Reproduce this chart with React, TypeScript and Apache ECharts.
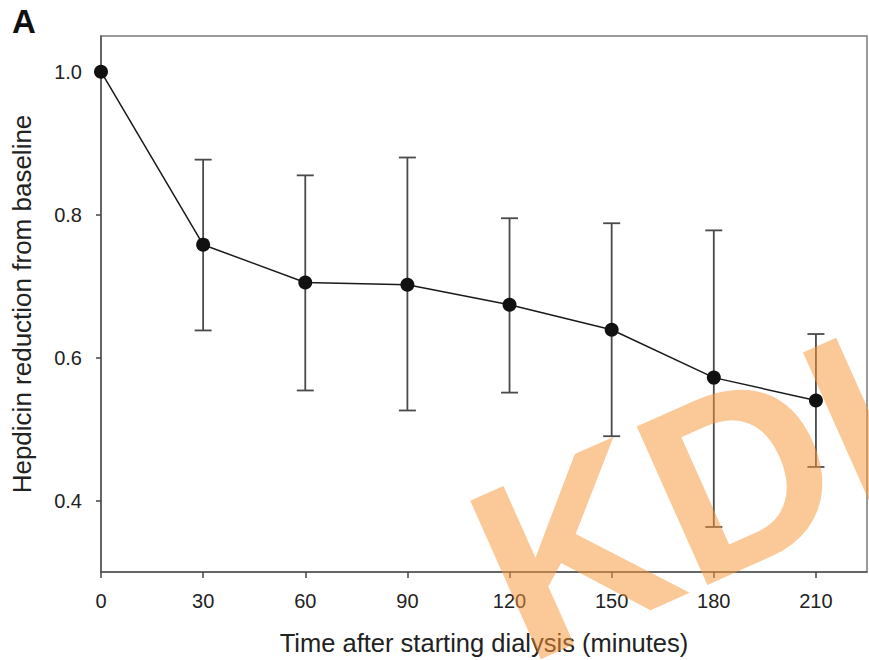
import React, { useEffect, useRef } from "react";
import * as echarts from "echarts";

const timePoints = [0, 30, 60, 90, 120, 150, 180, 210];
const meanValues = [1.0, 0.758, 0.705, 0.702, 0.674, 0.639, 0.572, 0.54];
const upperValues = [null, 0.877, 0.855, 0.88, 0.795, 0.788, 0.778, 0.633];
const lowerValues = [null, 0.638, 0.554, 0.526, 0.551, 0.49, 0.363, 0.447];
const xTickValues = [0, 30, 60, 90, 120, 150, 180, 210];
const yTickValues = [0.4, 0.6, 0.8, 1.0];

export default function App() {
  const ref = useRef<HTMLDivElement>(null);
  useEffect(() => {
    if (!ref.current) return;
    const chart = echarts.init(ref.current, null, { renderer: "svg" });
    const font = '"Liberation Sans", Arial, Helvetica, sans-serif';
    const lineData = timePoints.map((t, i) => [t, meanValues[i]]);
    const errData = timePoints
      .map((t, i) => [t, lowerValues[i], upperValues[i]])
      .filter((d) => d[1] != null);
    chart.setOption({
      animation: false,
      backgroundColor: "#ffffff",
      grid: {
        left: 101,
        right: 2,
        top: 36,
        bottom: 88,
        show: true,
        borderColor: "#7a7a7a",
        borderWidth: 1.5,
        containLabel: false,
        outerBoundsMode: "none",
      },
      xAxis: {
        type: "value",
        min: 0,
        max: 225,
        name: "Time after starting dialysis (minutes)",
        nameLocation: "middle",
        nameGap: 58,
        nameTextStyle: { fontFamily: font, fontSize: 25.5, color: "#222" },
        splitLine: { show: false },
        axisLine: { show: true, lineStyle: { color: "#555", width: 1.5 } },
        axisTick: {
          show: true,
          length: 6,
          inside: false,
          customValues: xTickValues,
          lineStyle: { color: "#444", width: 1.5 },
        },
        axisLabel: {
          customValues: xTickValues,
          fontFamily: font,
          fontSize: 20,
          color: "#222",
          margin: 19,
        },
      },
      yAxis: {
        type: "value",
        min: 0.3,
        max: 1.05,
        name: "Hepdicin reduction from baseline",
        nameLocation: "middle",
        nameGap: 66,
        nameRotate: 90,
        nameTextStyle: { fontFamily: font, fontSize: 26, color: "#222" },
        splitLine: { show: false },
        axisLine: { show: true, lineStyle: { color: "#555", width: 1.5 } },
        axisTick: {
          show: true,
          length: 5,
          inside: false,
          customValues: yTickValues,
          lineStyle: { color: "#444", width: 1.5 },
        },
        axisLabel: {
          customValues: yTickValues,
          formatter: (v: number) => v.toFixed(1),
          fontFamily: font,
          fontSize: 20,
          color: "#222",
          margin: 19,
        },
      },
      series: [
        {
          type: "custom",
          z: 2,
          data: errData,
          renderItem: (params: any, api: any) => {
            const x = api.value(0);
            const lo = api.coord([x, api.value(1)]);
            const hi = api.coord([x, api.value(2)]);
            const hw = 8.5;
            const style = { stroke: "#4a4a4a", lineWidth: 1.8 };
            return {
              type: "group",
              children: [
                { type: "line", shape: { x1: hi[0], y1: hi[1], x2: lo[0], y2: lo[1] }, style },
                { type: "line", shape: { x1: hi[0] - hw, y1: hi[1], x2: hi[0] + hw, y2: hi[1] }, style },
                { type: "line", shape: { x1: lo[0] - hw, y1: lo[1], x2: lo[0] + hw, y2: lo[1] }, style },
              ],
            };
          },
        },
        {
          type: "line",
          z: 3,
          data: lineData,
          symbol: "circle",
          symbolSize: 14,
          lineStyle: { color: "#1a1a1a", width: 1.5 },
          itemStyle: { color: "#111111" },
        },
      ],
      graphic: [
        {
          type: "text",
          left: 12,
          top: 5,
          style: { text: "A", font: `bold 33px ${font}`, fill: "#111" },
        },
        {
          type: "text",
          x: 490,
          y: 586,
          rotation: (24 * Math.PI) / 180,
          z: 100,
          silent: true,
          style: {
            text: "KDI",
            font: `bold 252px ${font}`,
            fill: "rgba(248,150,55,0.52)",
            align: "left",
            verticalAlign: "middle",
          },
        },
      ],
    });
    return () => chart.dispose();
  }, []);
  return <div ref={ref} style={{ width: 869, height: 660, position: "absolute", left: 0, top: 0 }} />;
}
